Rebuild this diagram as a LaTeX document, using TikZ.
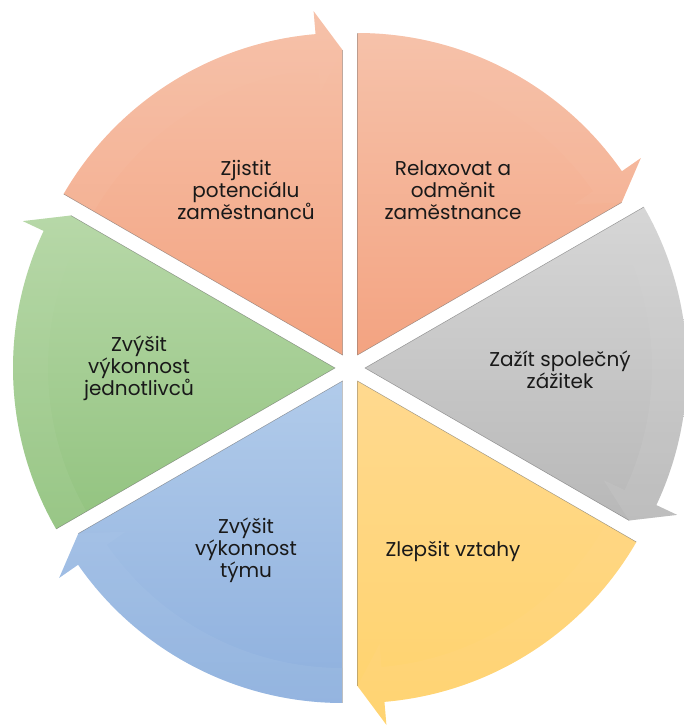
\documentclass[tikz,border=0pt]{standalone}
\usepackage{fontspec}
\setmainfont{Poppins}
\usepackage{xcolor}
\usepackage{tikz}

\definecolor{salmonTop}{HTML}{F6C2AA}
\definecolor{salmonBot}{HTML}{F3A381}
\definecolor{greyTop}{HTML}{D6D6D6}
\definecolor{greyBot}{HTML}{B8B8B8}
\definecolor{goldTop}{HTML}{FFD98F}
\definecolor{goldBot}{HTML}{FFD36C}
\definecolor{blueTop}{HTML}{B1CBEA}
\definecolor{blueBot}{HTML}{8EB0DE}
\definecolor{greenTop}{HTML}{B7D8A8}
\definecolor{greenBot}{HTML}{92C37F}

\tikzset{
  label text/.style={align=center, font=\fontsize{20}{22}\selectfont, text=black!90},
  edge line/.style={draw=black!60, line width=0.5pt, draw opacity=0.6},
}

\begin{document}
\begin{tikzpicture}[x=1pt,y=1pt]
  \useasboundingbox (-350,-357) rectangle (333,368);

  % Segments (bisector / top colour / bottom colour)
  \foreach \bis/\ctop/\cbot in {120/salmonTop/salmonBot, 60/salmonTop/salmonBot,
      0/greyTop/greyBot, -60/goldTop/goldBot, 240/blueTop/blueBot, 180/greenTop/greenBot} {
    \pgfmathsetmacro{\aone}{\bis+30}
    \pgfmathsetmacro{\atwo}{\bis-30}
    \pgfmathsetmacro{\aback}{\bis-25.2}
    \begin{scope}[shift={(\bis:15)}]
      \path[top color=\ctop, bottom color=\cbot] (0,0) -- (\aone:322)
        arc[start angle=\aone, end angle=\aback, radius=322]
        -- (\aback:345) -- (\atwo:305) -- cycle;
      \fill[\ctop, fill opacity=0.18] (\aone:322)
        arc[start angle=\aone, end angle=\aback, radius=322]
        -- (\aback:345) -- (\atwo:305) -- (\aback:264) -- (\aback:287)
        arc[start angle=\aback, end angle=\aone, radius=287] -- cycle;
      \draw[edge line] (\aone:322) -- (0,0) -- (\atwo:305);
    \end{scope}
  }

  % Labels
  \node[label text] (potential) at (-104,178) {Zjistit\\potenciálu\\zaměstnanců};
  \node[label text] (relax) at (103,178) {Relaxovat a\\odměnit\\zaměstnance};
  \node[label text] (experience) at (210,-2) {Zažít společný\\zážitek};
  \node[label text] (relations) at (103,-183) {Zlepšit vztahy};
  \node[label text] (team) at (-104,-182) {Zvýšit\\výkonnost\\týmu};
  \node[label text] (individual) at (-211,0) {Zvýšit\\výkonnost\\jednotlivců};

\end{tikzpicture}
\end{document}
